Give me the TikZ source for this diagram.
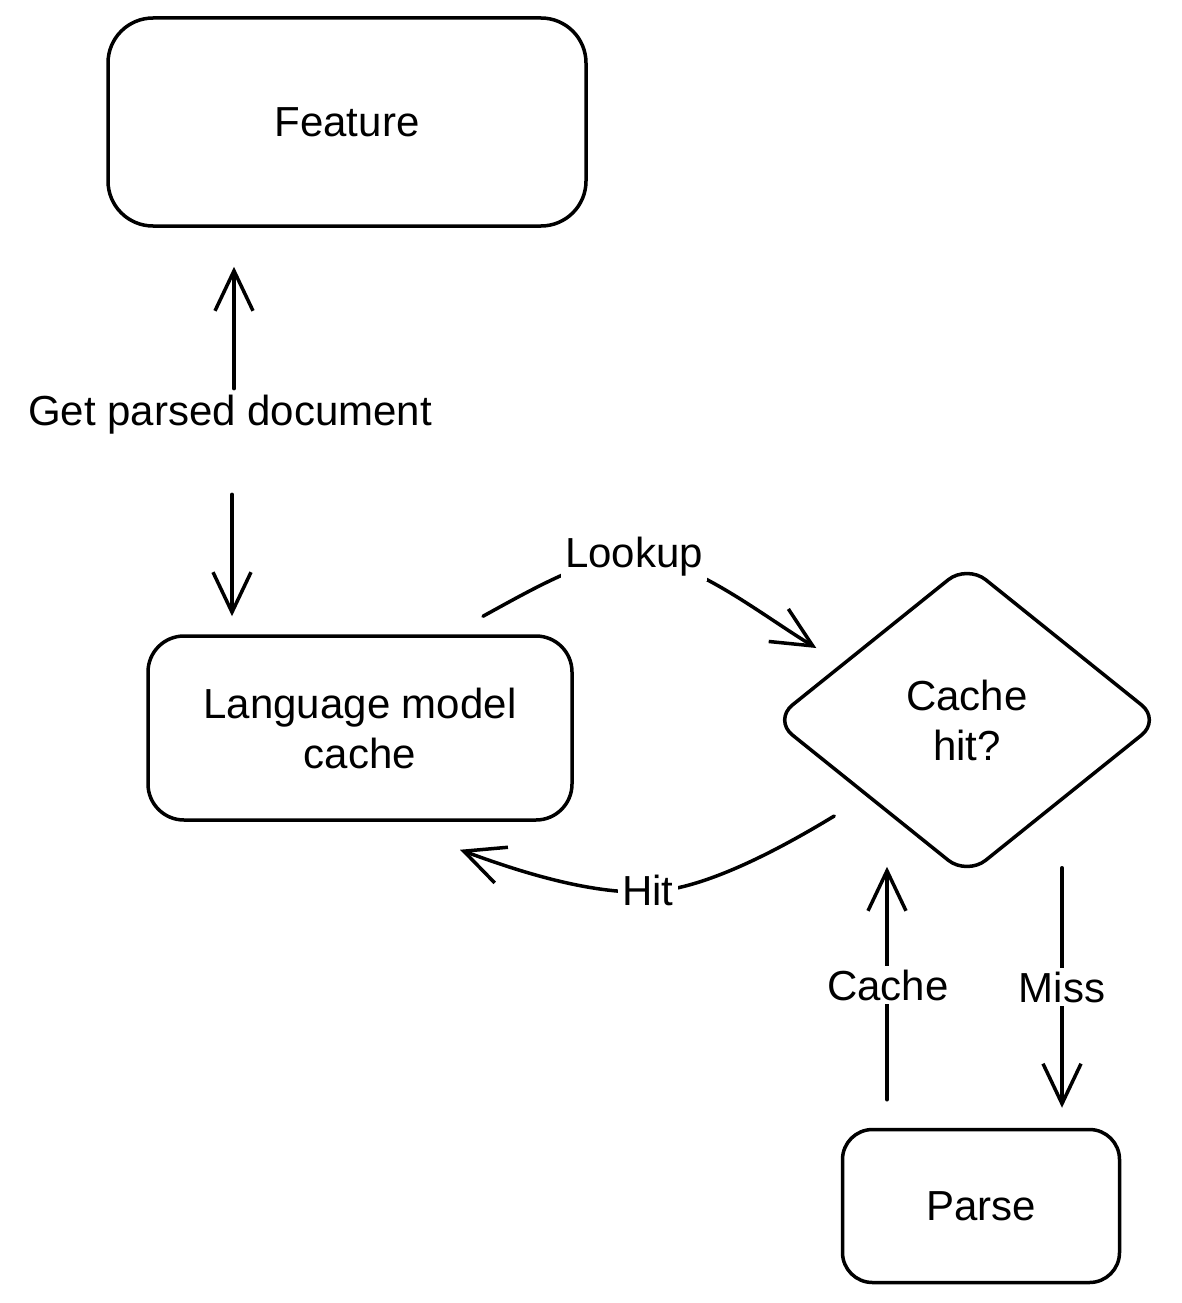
\documentclass[tikz,border=0pt]{standalone}
\usepackage{fontspec}
\setmainfont{Liberation Sans}
\usetikzlibrary{arrows.meta,shapes.geometric,calc}
\begin{document}
\begin{tikzpicture}[x=1pt,y=-1pt,line width=3.5pt,line join=round,line cap=round,
  txt/.style={font=\fontsize{42}{50}\selectfont},
  box/.style={draw,line width=3.5pt,align=center,inner sep=0pt,txt},
  lbl/.style={txt,inner sep=4pt,fill=white},
  arr/.style={-{Straight Barb[length=40pt,width=38pt]}}]
\useasboundingbox (0,0) rectangle (1181,1303);
% nodes
\node[box,rounded corners=45pt,minimum width=478pt,minimum height=208pt] (feature) at (347,122) {Feature};
\node[box,rounded corners=36pt,minimum width=424pt,minimum height=184pt] (lm) at (360,728) {Language model\\cache};
\node[box,rounded corners=30pt,minimum width=277pt,minimum height=153pt] (parse) at (981,1206) {Parse};
\node[box,diamond,rounded corners=24pt,minimum width=388pt,minimum height=312pt] (dia) at (967,720) {Cache\\hit?};
% get parsed document
\node[lbl,inner sep=0pt,fill=none] (gpd) at (230,415) {Get parsed document};
\coordinate (gt) at ($(gpd.north)+(4,0)$);
\coordinate (gb) at ($(gpd.south)+(2,0)$);
\draw[arr,shorten <=5pt,shorten >=39pt] (gt) -- (gt |- feature.south);
\draw[arr,shorten <=58pt,shorten >=18pt] (gb) -- (gb |- lm.north);
% lookup
\coordinate (ls) at ($(lm.north)+(123,-18)$);
\coordinate (le) at ($(dia.west)+(45,-72)$);
\draw[arr] (ls) .. controls (545,582) and (590,557) .. (634,557)
  .. controls (690,557) and (760,614) .. (le);
\node[lbl] (lookup) at (634,557) {Lookup};
% hit
\coordinate (hs) at ($(dia.west)+(63,96)$);
\coordinate (he) at ($(lm.south)+(100,28)$);
\draw[arr] (hs) .. controls (770,855) and (700,890) .. (648,892)
  .. controls (590,894) and (520,872) .. (he);
\node[lbl] (hit) at (648,890) {Hit};
% cache / miss
\coordinate (cbot) at ($(parse.north)+(-94,-28)$);
\coordinate (ctop) at ($(dia.south)+(-80,-11)$);
\draw[arr] (cbot) -- (ctop);
\node[lbl] (cachelbl) at (888,985) {Cache};
\coordinate (mtop) at ($(dia.south)+(95,-10)$);
\coordinate (mbot) at ($(parse.north)+(81,-20)$);
\draw[arr] (mtop) -- (mbot);
\node[lbl] (misslbl) at (1062,987) {Miss};
\end{tikzpicture}
\end{document}
